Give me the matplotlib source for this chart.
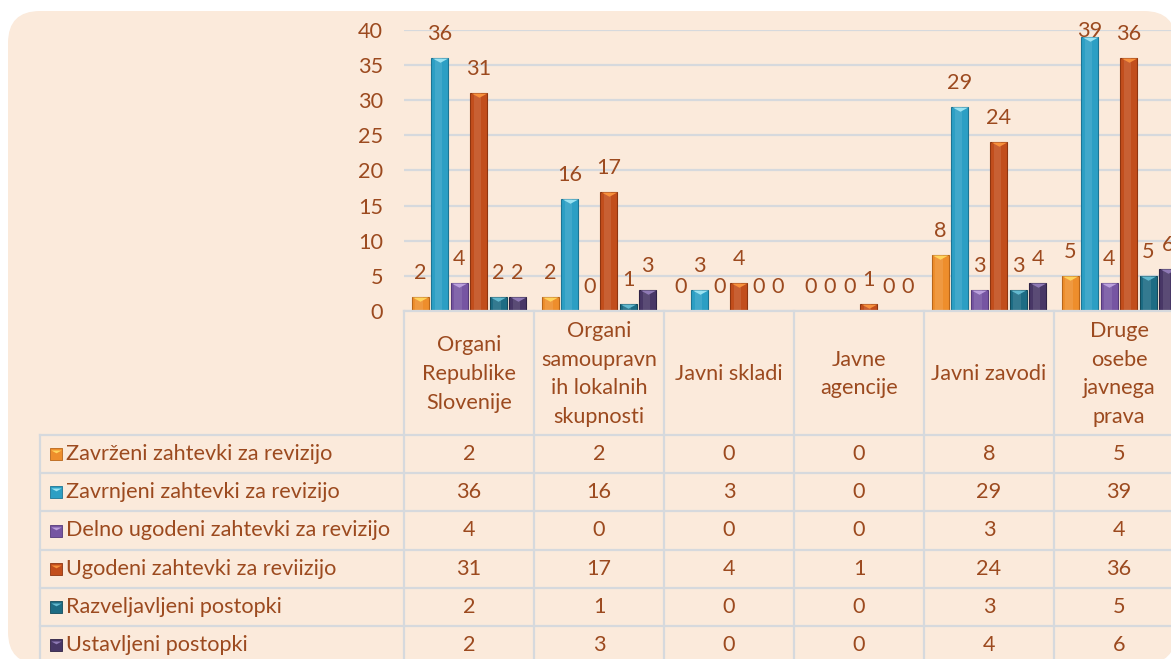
import numpy as np
import matplotlib
matplotlib.use("Agg")
import matplotlib.pyplot as plt
from matplotlib.patches import FancyBboxPatch

# data
categories = ["Organi\nRepublike\nSlovenije",
              "Organi\nsamoupravn\nih lokalnih\nskupnosti",
              "Javni skladi",
              "Javne\nagencije",
              "Javni zavodi",
              "Druge\nosebe\njavnega\nprava"]
series_names = ["Zavrženi zahtevki za revizijo",
                "Zavrnjeni zahtevki za revizijo",
                "Delno ugodeni zahtevki za revizijo",
                "Ugodeni zahtevki za reviizijo",
                "Razveljavljeni postopki",
                "Ustavljeni postopki"]
zavrzeni = [2, 2, 0, 0, 8, 5]
zavrnjeni = [36, 16, 3, 0, 29, 39]
delno_ugodeni = [4, 0, 0, 0, 3, 4]
ugodeni = [31, 17, 4, 1, 24, 36]
razveljavljeni = [2, 1, 0, 0, 3, 5]
ustavljeni = [2, 3, 0, 0, 4, 6]
series = [zavrzeni, zavrnjeni, delno_ugodeni, ugodeni, razveljavljeni, ustavljeni]

colors = ["#EE8E2C", "#2C9FC4", "#7655A2", "#C24E1C", "#1D6C84", "#483766"]
caps = ["#FFD45C", "#9BE3F2", "#BBA0DD", "#F7903C", "#63B9CF", "#8F7AB5"]
edges = ["#B8661A", "#1C7594", "#54397A", "#8E3510", "#124B5C", "#2F2245"]

TXT = "#9C4A1F"
GRID = "#D6D9DD"
BG = "#FBEADB"
plt.rcParams["font.family"] = ["Lato", "DejaVu Sans"]
FS = 15.6

W, H = 1171, 659
fig = plt.figure(figsize=(W / 100, H / 100), dpi=100)
fig.patch.set_facecolor("white")


def fx(px):
    return px / W


def fy(py):
    return 1 - py / H


# rounded background panel
bg = FancyBboxPatch((0.08, -0.05), 11.68, 6.53,
                    boxstyle="round,pad=0,rounding_size=0.32",
                    transform=fig.dpi_scale_trans, facecolor=BG,
                    edgecolor="none", zorder=-10)
fig.patches.append(bg)

# chart area
left_px, top_px, zero_px, cat_px = 404, 30, 311, 130
n = len(categories)
ax = fig.add_axes([fx(left_px), fy(zero_px), n * cat_px / W, (zero_px - top_px) / H])
ax.patch.set_visible(False)
ax.set_xlim(-0.5, n - 0.5)
ax.set_ylim(0, 40)
ax.set_yticks(range(0, 41, 5))
ax.set_xticks([])
ax.yaxis.grid(True, color=GRID, lw=1.6)
ax.set_axisbelow(True)
for s in ax.spines.values():
    s.set_visible(False)
ax.tick_params(axis="y", length=0, pad=15, labelsize=FS, labelcolor=TXT)

x = np.arange(n)
pitch, width = 0.15, 0.127
cap_marker = [(-1, 0), (1, 0), (0, -0.55)]
for i, vals in enumerate(series):
    xs = x + (i - 2.5) * pitch
    ax.bar(xs, vals, width, color=colors[i], edgecolor=edges[i], lw=0.8, zorder=2)
    ax.bar(xs - width * 0.08, vals, width * 0.45, color="white", alpha=0.10, lw=0, zorder=3)
    pos = [v > 0 for v in vals]
    ax.scatter(xs[pos], np.array(vals)[pos], marker=cap_marker, s=125,
               color=caps[i], lw=0, zorder=4, clip_on=False)
    for xv, v in zip(xs, vals):
        ax.annotate(str(v), (xv, min(v, 36.4)), xytext=(0, 13),
                    textcoords="offset points", ha="center", va="baseline",
                    fontsize=FS, color=TXT, annotation_clip=False)

# data table below
tab_left, hdr_h, row_h = 40, 124, 38.2
tab_h = hdr_h + len(series) * row_h
xmin = -0.5 - (left_px - tab_left) / cat_px
tax = fig.add_axes([fx(tab_left), fy(zero_px + tab_h),
                    (left_px + n * cat_px - tab_left) / W, tab_h / H])
tax.set_xlim(xmin, n - 0.5)
tax.set_ylim(tab_h, 0)
tax.axis("off")
tax.patch.set_visible(False)

lw = 1.6
tax.plot([-0.5, n - 0.5], [0, 0], color=GRID, lw=lw, clip_on=False)
for k in range(n + 1):
    tax.plot([-0.5 + k] * 2, [0, tab_h], color=GRID, lw=lw, clip_on=False)
tax.plot([xmin, xmin], [hdr_h, tab_h], color=GRID, lw=lw, clip_on=False)
for r in range(len(series) + 1):
    y = hdr_h + r * row_h
    tax.plot([xmin, n - 0.5], [y, y], color=GRID, lw=lw, clip_on=False)

for j, cat in enumerate(categories):
    tax.text(j, hdr_h / 2 + 1, cat, ha="center", va="center", fontsize=FS,
             color=TXT, linespacing=1.55)

key_x = xmin + (56 - tab_left) / cat_px
lab_x = xmin + (66 - tab_left) / cat_px
for i, (name, vals) in enumerate(zip(series_names, series)):
    yc = hdr_h + (i + 0.5) * row_h
    tax.scatter([key_x], [yc], marker="s", s=75, color=colors[i],
                edgecolors=edges[i], linewidths=0.6, zorder=3, clip_on=False)
    tax.scatter([key_x], [yc - 4], marker=cap_marker, s=55, color=caps[i],
                lw=0, zorder=4, clip_on=False)
    tax.text(lab_x, yc, name, ha="left", va="center", fontsize=FS, color=TXT)
    for j, v in enumerate(vals):
        tax.text(j, yc, str(v), ha="center", va="center", fontsize=FS, color=TXT)

fig.savefig("out.png", dpi=100)
